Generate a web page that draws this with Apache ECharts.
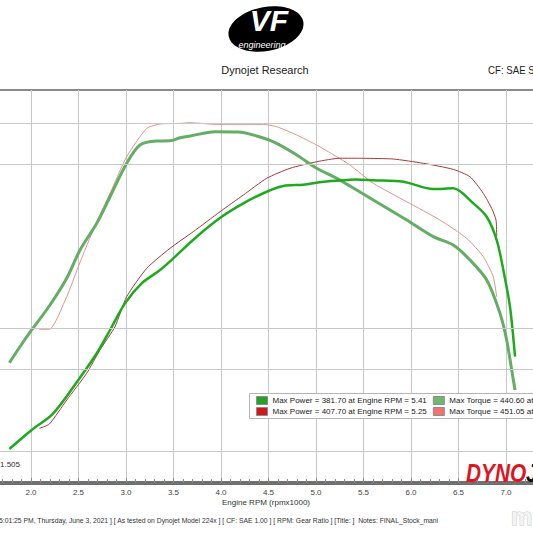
<!DOCTYPE html>
<html><head><meta charset="utf-8">
<script src="https://cdn.jsdelivr.net/npm/echarts@6/dist/echarts.min.js"></script>
<style>html,body{margin:0;padding:0;background:#fff}#c{width:533px;height:533px}</style>
</head><body><div id="c"></div>
<script>
// ---- data ----
const rpmGreenPower = [1.772,2.007,2.235,2.498,2.692,2.832,2.989,3.165,3.358,3.498,3.744,4.007,4.235,4.481,4.656,4.866,5.077,5.358,5.41,5.603,5.919,6.235,6.445,6.656,6.797,6.902,6.972,7.042,7.095];
const greenPower    = [53.0,76.2,96.6,137.2,169.8,198.2,230.7,255.1,271.3,285.6,312.0,336.3,352.7,366.8,373.8,375.4,379.0,381.4,381.7,380.8,379.0,370.1,371.0,352.7,336.3,307.9,271.3,226.6,165.6];

const rpmGreenTorque = [1.772,1.884,2.007,2.2,2.376,2.516,2.692,2.832,3.007,3.147,3.323,3.463,3.568,3.674,3.937,4.182,4.376,4.586,4.797,5.007,5.218,5.358,5.603,5.955,6.235,6.445,6.621,6.797,6.937,7.007,7.06,7.095];
const greenTorque    = [158.3,177.8,198.2,228.7,261.2,295.7,328.3,360.7,401.5,423.8,428.7,429.0,432.7,434.8,440.0,439.6,434.8,425.9,411.6,395.4,383.2,373.8,356.7,332.3,312.0,301.8,283.5,259.1,218.5,186.0,149.4,125.0];

const rpmRedPower = [2.087,2.193,2.376,2.586,2.726,2.884,3.007,3.218,3.463,3.708,3.989,4.235,4.481,4.726,5.007,5.253,5.498,5.814,6.129,6.445,6.621,6.761,6.849,6.895,6.902];
const redPower    = [78.3,83.5,112.8,145.4,173.8,202.2,238.8,273.4,297.8,318.1,342.4,362.8,383.2,395.4,403.4,407.7,407.6,406.7,401.5,394.1,385.1,364.9,346.6,332.3,311.9];

const rpmRedTorque = [2.087,2.193,2.376,2.498,2.568,2.692,2.832,3.007,3.218,3.358,3.568,3.674,3.955,4.445,4.586,4.797,5.007,5.218,5.358,5.603,5.955,6.305,6.586,6.761,6.866,6.902];
const redTorque    = [199.0,199.0,238.8,275.4,295.7,330.2,364.9,409.5,444.1,449.4,450.2,451.0,449.0,449.0,446.1,436.0,423.8,409.5,399.4,377.1,354.6,332.3,310.0,287.6,263.2,238.8];

const hGridValues = [50, 150, 200, 400, 450];

const nameGP = 'Max Power = 381.70 at Engine RPM = 5.41';
const nameGT = 'Max Torque = 440.60 at Engine RPM = 3.94';
const nameRP = 'Max Power = 407.70 at Engine RPM = 5.25';
const nameRT = 'Max Torque = 451.05 at Engine RPM = 3.67';

const zip = (xs, ys) => xs.map((x, i) => [x, ys[i]]);
const FONT = '"Liberation Sans", Arial, sans-serif';
const mid = {align: 'center', verticalAlign: 'middle', textAlign: 'center', textVerticalAlign: 'middle'};
const lft = {align: 'left', verticalAlign: 'middle', textAlign: 'left', textVerticalAlign: 'middle'};

const legendCommon = {left: 256, width: 420, padding: 0, itemGap: 6, itemWidth: 11, itemHeight: 8, icon: 'rect',
  itemStyle: {borderColor: '#8c8c8c', borderWidth: 1}, selectedMode: false,
  textStyle: {fontSize: 8, color: '#222', fontFamily: FONT}};

const chart = echarts.init(document.getElementById('c'), null, {renderer: 'svg'});
chart.setOption({
  animation: false,
  backgroundColor: '#fff',
  grid: {left: -16.5, right: -20.5, top: 90, bottom: 50, outerBoundsMode: 'none', containLabel: false,
         show: true, borderColor: '#8a8a8a', borderWidth: 2, backgroundColor: 'transparent'},
  xAxis: {
    type: 'value', min: 1.5, max: 7.5, interval: 0.5,
    axisLine: {show: true, onZero: false, lineStyle: {color: '#707070', width: 4}},
    axisTick: {show: true, inside: true, length: 5, lineStyle: {color: '#8a8a8a'}},
    minorTick: {show: true, splitNumber: 5, length: 4, lineStyle: {color: '#8a8a8a'}},
    axisLabel: {formatter: v => v.toFixed(1), fontSize: 8, color: '#444', margin: 5, fontFamily: FONT,
                showMinLabel: false, showMaxLabel: false},
    splitLine: {show: true, lineStyle: {color: '#c8c8c8', width: 1}}
  },
  yAxis: {type: 'value', min: 11.6, max: 490.9, show: false, splitLine: {show: false}},
  legend: [
    Object.assign({top: 396, data: [{name: nameGP, itemStyle: {color: '#22a322'}}, {name: nameGT, itemStyle: {color: '#6fb96f'}}]}, legendCommon),
    Object.assign({top: 407, data: [{name: nameRP, itemStyle: {color: '#d11818'}}, {name: nameRT, itemStyle: {color: '#f07272'}}]}, legendCommon)
  ],
  series: [
    {name: nameRT, type: 'line', data: zip(rpmRedTorque, redTorque), showSymbol: false, smooth: 0.2,
     lineStyle: {color: '#d9958f', width: 1}, itemStyle: {color: '#d9958f'},
     markLine: {silent: true, symbol: 'none', label: {show: false},
       lineStyle: {color: '#c8c8c8', width: 1, type: 'solid'},
       data: hGridValues.map(v => ({yAxis: v}))}},
    {name: nameRP, type: 'line', data: zip(rpmRedPower, redPower), showSymbol: false, smooth: 0.2,
     lineStyle: {color: '#a33a3a', width: 1}, itemStyle: {color: '#a33a3a'}},
    {name: nameGT, type: 'line', data: zip(rpmGreenTorque, greenTorque), showSymbol: false, smooth: 0.3,
     lineStyle: {color: '#64ad64', width: 3}, itemStyle: {color: '#64ad64'}},
    {name: nameGP, type: 'line', data: zip(rpmGreenPower, greenPower), showSymbol: false, smooth: 0.3,
     lineStyle: {color: '#1eaa1e', width: 2.5}, itemStyle: {color: '#1eaa1e'}}
  ],
  graphic: [
    {type: 'rect', shape: {x: 249.5, y: 393.5, width: 300, height: 25}, z: 3,
     style: {fill: '#fff', stroke: '#b5b5b5', lineWidth: 1}},
    {type: 'ellipse', x: 266, y: 29, rotation: 0.2, shape: {cx: 0, cy: 0, rx: 38, ry: 22}, style: {fill: '#000'}},
    {type: 'text', x: 269, y: 20, style: Object.assign({text: 'VF', font: 'italic bold 30px ' + FONT, fill: '#fff', stroke: '#000', lineWidth: 1}, mid)},
    {type: 'text', x: 262, y: 45, style: Object.assign({text: 'engineering', font: 'italic 9px ' + FONT, fill: '#fff'}, mid)},
    {type: 'text', x: 265, y: 70, style: Object.assign({text: 'Dynojet Research', font: '11px ' + FONT, fill: '#222'}, mid)},
    {type: 'text', x: 488, y: 70, scaleX: 0.88, style: Object.assign({text: 'CF: SAE S', font: '11px ' + FONT, fill: '#222'}, lft)},
    {type: 'text', x: 0, y: 464, style: Object.assign({text: '1.505', font: '8px ' + FONT, fill: '#333'}, lft)},
    {type: 'text', x: 266, y: 502, style: Object.assign({text: 'Engine RPM (rpmx1000)', font: '8px ' + FONT, fill: '#333'}, mid)},
    {type: 'text', x: -1, y: 520, scaleX: 0.85, style: Object.assign({text: '5:01:25 PM, Thursday, June 3, 2021 ] [ As tested on Dynojet Model 224x ] [ CF: SAE 1.00 ] [ RPM: Gear Ratio ] [Title: ]  Notes: FINAL_Stock_mani', font: '8px ' + FONT, fill: '#333'}, lft)},
    {type: 'text', x: 466, y: 473, scaleX: 0.8, z: 5,
     style: Object.assign({text: '{r|DYNO}{k|JET}', rich: {r: {fill: '#e0141e', font: 'italic bold 26px ' + FONT}, k: {fill: '#111', font: 'italic bold 26px ' + FONT}}}, lft)},
    {type: 'text', x: 511, y: 516, style: Object.assign({text: 'm', font: 'bold 24px ' + FONT, fill: '#f4f4f4', stroke: '#c8c8c8', lineWidth: 1}, lft)}
  ]
});
</script></body></html>
